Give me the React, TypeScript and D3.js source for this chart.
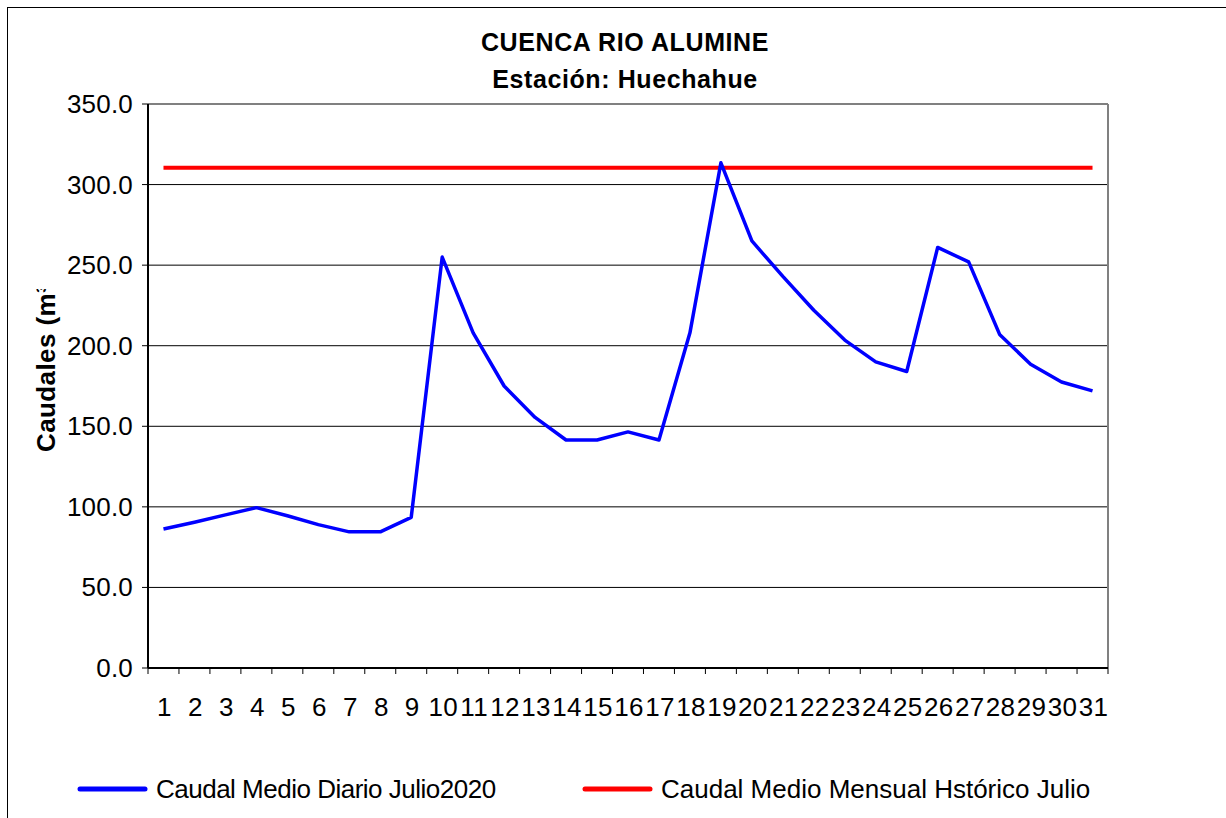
import React from 'react'
import * as d3 from 'd3'

const days = d3.range(1, 32).map(String)
const dailyFlow = [
  86.3, 90.5, 95, 99.5, 94.5, 89, 84.5, 84.5, 93.5, 255,
  208, 175, 155.5, 141.5, 141.5, 146.5, 141.5, 208, 313.5, 265,
  243, 222, 203.5, 190, 184, 261, 252, 207, 188.5, 177.5, 172
]
const historicMean = 310.5
const yTicks = [0, 50, 100, 150, 200, 250, 300, 350]
const titleLines = ['CUENCA RIO ALUMINE', 'Estación: Huechahue']
const yLabel = 'Caudales (m³/s)'
const legendItems = [
  { label: 'Caudal Medio Diario Julio2020', color: '#0000ff' },
  { label: 'Caudal Medio Mensual Hstórico Julio', color: '#ff0000' }
]

const W = 1226
const H = 818
const plot = { left: 148, right: 1108, top: 104, bottom: 668 }
const font = '"Liberation Sans", Arial, sans-serif'

export default function App () {
  const x = d3.scaleBand().domain(days).range([plot.left, plot.right])
  const y = d3.scaleLinear().domain([0, 350]).range([plot.bottom, plot.top])
  const cx = (d: string) => (x(d) as number) + x.bandwidth() / 2

  const line = d3.line<number>()
    .x((_, i) => cx(days[i]))
    .y(d => y(d))

  const histLine = d3.line<string>()
    .x(d => cx(d))
    .y(() => y(historicMean))

  // tick marks sit on the category boundaries
  const bounds = x.domain().map(d => x(d) as number).concat(plot.right)
  const legendX = [80, 585]

  return (
    <svg width={W} height={H} style={{ position: 'absolute', left: 0, top: 0, background: '#fff' }}>
      <defs>
        <clipPath id='ylab'>
          <rect x={0} y={289} width={100} height={400} />
        </clipPath>
      </defs>
      <rect x={7.5} y={7.5} width={1300} height={900} fill='#fff' stroke='#000' strokeWidth={1} />

      {titleLines.map((t, i) => (
        <text key={t} x={625} y={51 + i * 37} textAnchor='middle' fontFamily={font}
          fontWeight='bold' fontSize={25} letterSpacing={0.6}>{t}</text>
      ))}

      {yTicks.map(t => (
        <g key={t}>
          {t > 0 && <line x1={plot.left} x2={plot.right} y1={y(t)} y2={y(t)} stroke='#000' strokeWidth={1} />}
          <line x1={plot.left - 6} x2={plot.left} y1={y(t)} y2={y(t)} stroke='#000' />
          <text x={133} y={y(t) + 9} textAnchor='end' fontFamily={font} fontSize={26} letterSpacing={0.2}>
            {t.toFixed(1)}
          </text>
        </g>
      ))}

      <line x1={plot.left} x2={plot.right} y1={plot.top} y2={plot.top} stroke='#808080' strokeWidth={2} />
      <line x1={plot.right} x2={plot.right} y1={plot.top} y2={plot.bottom} stroke='#808080' strokeWidth={2} />
      <line x1={plot.left} x2={plot.left} y1={plot.top} y2={plot.bottom} stroke='#000' strokeWidth={2} />
      <line x1={plot.left} x2={plot.right} y1={plot.bottom} y2={plot.bottom} stroke='#000' strokeWidth={2} />

      {bounds.map((b, i) => (
        <line key={i} x1={b} x2={b} y1={plot.bottom} y2={plot.bottom + 6} stroke='#000' />
      ))}
      {days.map(d => (
        <text key={d} x={cx(d) + 1} y={716} textAnchor='middle' fontFamily={font} fontSize={26} letterSpacing={0.3}>{d}</text>
      ))}

      <g clipPath='url(#ylab)'>
        <text transform='translate(55,452) rotate(-90)' fontFamily={font} fontWeight='bold'
          fontSize={26} letterSpacing={0.4}>{yLabel}</text>
      </g>

      <path d={histLine(days) || ''} fill='none' stroke='#ff0000' strokeWidth={4} />
      <path d={line(dailyFlow) || ''} fill='none' stroke='#0000ff' strokeWidth={3.5} strokeLinejoin='round' />

      {legendItems.map((item, i) => (
        <g key={item.label}>
          <line x1={legendX[i]} x2={legendX[i] + 65} y1={789} y2={789}
            stroke={item.color} strokeWidth={5} strokeLinecap='round' />
          <text x={legendX[i] + 76} y={798} fontFamily={font} fontSize={26}
            letterSpacing={i === 0 ? -0.5 : 0}>{item.label}</text>
        </g>
      ))}
    </svg>
  )
}
